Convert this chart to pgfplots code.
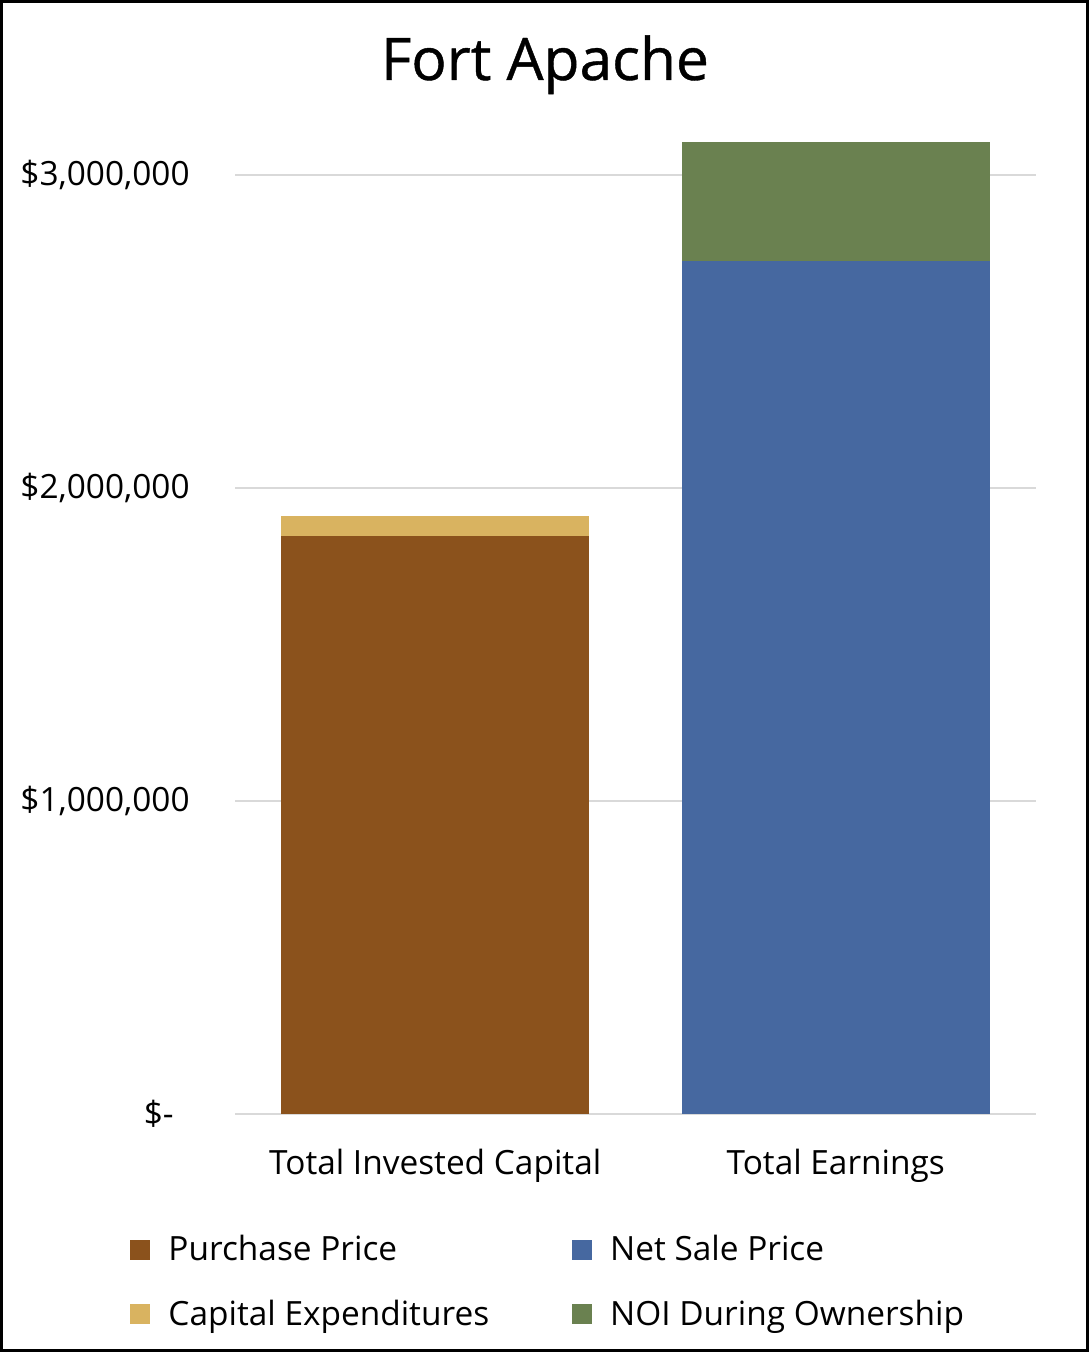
\documentclass[border=0pt]{standalone}
\usepackage{pgfplots}
\pgfplotsset{compat=1.18}
\usepackage{fontspec}
\setmainfont{Open Sans}
\newfontfamily\titlefont[FakeBold=0.7]{Open Sans}

\definecolor{purchase}{HTML}{8B521C}
\definecolor{capex}{HTML}{D9B360}
\definecolor{netsale}{HTML}{4668A0}
\definecolor{noi}{HTML}{6A8150}
\definecolor{gridgray}{HTML}{D9D9D9}

\newcommand\tickfont{\fontsize{16.7}{20}\selectfont}

\begin{document}
\begin{tikzpicture}
\useasboundingbox (0,0) rectangle (544.5pt,676pt);
\draw[line width=1.5pt] (0.75pt,0.75pt) rectangle (543.75pt,675.25pt);
\node[anchor=base, font=\titlefont\fontsize{29.3}{34}\selectfont] at (272.5pt,636pt) {Fort Apache};

\begin{axis}[
    at={(117.5pt,119pt)}, anchor=south west,
    scale only axis,
    width=400.5pt, height=500.8pt,
    ybar stacked,
    bar width=154pt,
    xmin=-0.5, xmax=1.5,
    ymin=0, ymax=3200000,
    scaled y ticks=false,
    xtick={0,1},
    xticklabels={Total Invested Capital, Total Earnings},
    ytick={0,1000000,2000000,3000000},
    yticklabels={\$-\hspace*{8pt}, {\$1,000,000}, {\$2,000,000}, {\$3,000,000}},
    major tick length=0pt,
    axis line style={draw=none},
    ymajorgrids,
    grid style={gridgray, line width=0.85pt},
    yticklabel style={anchor=east, inner sep=0pt, xshift=-22.5pt, font=\tickfont},
    xticklabel style={anchor=north, inner sep=0pt, yshift=-17.5pt, font=\tickfont},
    legend columns=2,
    transpose legend,
    legend cell align=left,
    legend style={
        at={(-0.131,-0.117)}, anchor=north west,
        draw=none, fill=none, inner sep=0pt,
        font=\tickfont,
        row sep=14pt,
        /tikz/every even column/.append style={column sep=39.5pt},
    },
    legend image code/.code={\fill[#1] (0pt,-5pt) rectangle (10pt,5pt); \path (17pt,0pt);},
]
\addplot[fill=purchase, draw=none] coordinates {(0,1847000) (1,0)};
\addlegendentry{Purchase Price}
\addplot[fill=capex, draw=none] coordinates {(0,64000) (1,0)};
\addlegendentry{Capital Expenditures}
\addplot[fill=netsale, draw=none] coordinates {(0,0) (1,2725000)};
\addlegendentry{Net Sale Price}
\addplot[fill=noi, draw=none] coordinates {(0,0) (1,380000)};
\addlegendentry{NOI During Ownership}
\end{axis}
\end{tikzpicture}
\end{document}
